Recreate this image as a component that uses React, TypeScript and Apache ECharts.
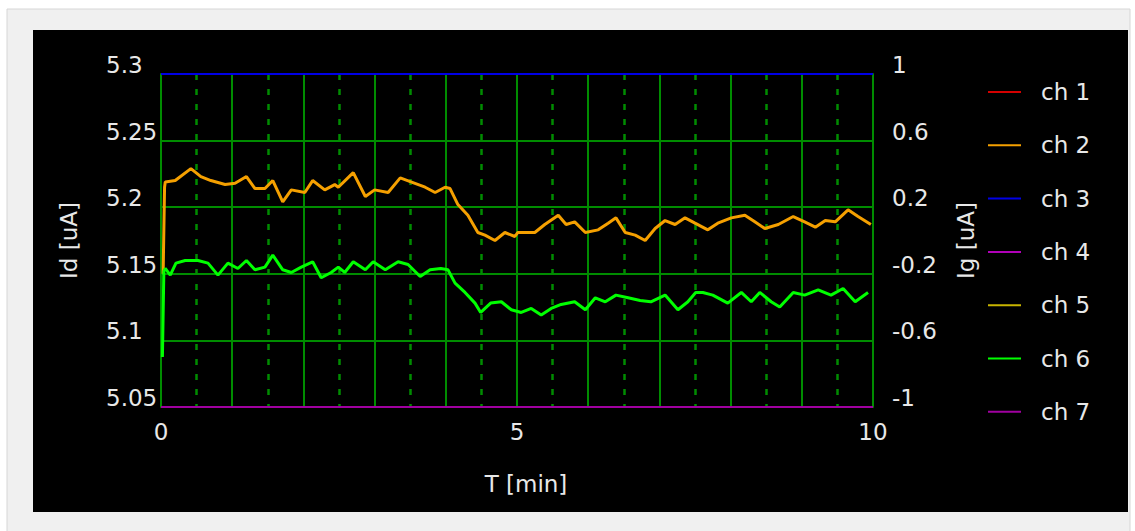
import React, { useEffect, useRef } from "react";
import * as echarts from "echarts";

// ---- data ----
const seriesNames = ["ch 1", "ch 2", "ch 3", "ch 4", "ch 5", "ch 6", "ch 7"];
const seriesColors = ["#d40000", "#f5a000", "#0000e6", "#b000b8", "#c8b400", "#00ff00", "#a000a0"];

// ch 2 (Id, orange): [T min, Id uA]
const ch2Points: [number, number][] = [
  [0.03, 5.15], [0.05, 5.215], [0.06, 5.219], [0.2, 5.22], [0.42, 5.229], [0.56, 5.223], [0.7, 5.22],
  [0.9, 5.217], [1.04, 5.218], [1.2, 5.223], [1.32, 5.214], [1.46, 5.214], [1.57, 5.22], [1.71, 5.204],
  [1.83, 5.213], [2.02, 5.211], [2.13, 5.22], [2.3, 5.213], [2.44, 5.217], [2.49, 5.215], [2.7, 5.226],
  [2.87, 5.208], [3.0, 5.213], [3.19, 5.211], [3.36, 5.222], [3.51, 5.219], [3.71, 5.215], [3.85, 5.211],
  [3.99, 5.215], [4.06, 5.214], [4.17, 5.202], [4.31, 5.194], [4.45, 5.181], [4.55, 5.179], [4.69, 5.175],
  [4.83, 5.181], [4.97, 5.178], [5.01, 5.181], [5.25, 5.181], [5.39, 5.187], [5.58, 5.194], [5.69, 5.187],
  [5.81, 5.189], [5.96, 5.181], [6.14, 5.183], [6.28, 5.188], [6.39, 5.192], [6.52, 5.181], [6.66, 5.179],
  [6.8, 5.175], [6.94, 5.184], [7.08, 5.19], [7.22, 5.187], [7.36, 5.192], [7.5, 5.188], [7.68, 5.183],
  [7.82, 5.188], [8.01, 5.192], [8.2, 5.194], [8.34, 5.189], [8.48, 5.184], [8.67, 5.187], [8.88, 5.193],
  [9.04, 5.189], [9.19, 5.185], [9.33, 5.19], [9.47, 5.189], [9.65, 5.198], [9.79, 5.193], [9.97, 5.187],
];

// ch 6 (Id, green): [T min, Id uA]
const ch6Points: [number, number][] = [
  [0.02, 5.0875], [0.04, 5.152], [0.06, 5.154], [0.13, 5.149], [0.21, 5.158], [0.34, 5.16], [0.52, 5.16],
  [0.66, 5.158], [0.8, 5.149], [0.94, 5.158], [1.08, 5.154], [1.2, 5.16], [1.32, 5.153], [1.46, 5.155],
  [1.57, 5.164], [1.71, 5.153], [1.83, 5.151], [1.97, 5.155], [2.13, 5.159], [2.25, 5.147], [2.39, 5.151],
  [2.49, 5.155], [2.58, 5.151], [2.7, 5.159], [2.87, 5.153], [2.98, 5.159], [3.15, 5.153], [3.33, 5.159],
  [3.47, 5.157], [3.64, 5.148], [3.78, 5.153], [3.93, 5.154], [4.03, 5.153], [4.13, 5.143], [4.27, 5.136],
  [4.41, 5.128], [4.49, 5.121], [4.63, 5.128], [4.78, 5.129], [4.92, 5.123], [5.06, 5.121], [5.2, 5.124],
  [5.34, 5.119], [5.48, 5.124], [5.62, 5.127], [5.81, 5.129], [5.96, 5.123], [6.1, 5.132], [6.24, 5.129],
  [6.39, 5.134], [6.56, 5.132], [6.73, 5.13], [6.88, 5.129], [7.08, 5.134], [7.26, 5.123], [7.4, 5.129],
  [7.51, 5.136], [7.61, 5.136], [7.75, 5.134], [7.96, 5.128], [8.15, 5.136], [8.29, 5.129], [8.41, 5.136],
  [8.57, 5.129], [8.69, 5.125], [8.88, 5.136], [9.04, 5.134], [9.23, 5.138], [9.41, 5.134], [9.58, 5.139],
  [9.75, 5.129], [9.93, 5.136],
];

// flat channels pinned at the axis limits
const ch3Points: [number, number][] = [[0, 5.3], [10, 5.3]];
const ch7Points: [number, number][] = [[0, 5.05], [10, 5.05]];

const xLabelValues = [0, 5, 10];
const rightTickLabels = ["-1", "-0.6", "-0.2", "0.2", "0.6", "1"];

const FONT = "DejaVu Sans";
const TXT = "#e8e8e8";
const GRID_GREEN = "#008c00";

export default function App() {
  const ref = useRef<HTMLDivElement>(null);
  useEffect(() => {
    if (!ref.current) return;
    const chart = echarts.init(ref.current, undefined, { renderer: "svg" });
    const dataByName: Record<string, [number, number][]> = {
      "ch 1": [],
      "ch 2": ch2Points,
      "ch 3": ch3Points,
      "ch 4": [],
      "ch 5": [],
      "ch 6": ch6Points,
      "ch 7": ch7Points,
    };
    const series = seriesNames.map((name, i) => ({
      name,
      type: "line",
      xAxisIndex: 0,
      yAxisIndex: 0,
      data: dataByName[name],
      showSymbol: false,
      symbol: "none",
      clip: name === "ch 3" || name === "ch 7" ? false : true,
      color: seriesColors[i],
      lineStyle: { color: seriesColors[i], width: name === "ch 2" || name === "ch 6" ? 3 : 2 },
      z: name === "ch 6" ? 4 : 3,
    }));
    chart.setOption({
      animation: false,
      backgroundColor: "#ffffff",
      textStyle: { fontFamily: FONT },
      graphic: [
        {
          type: "rect",
          z: -20,
          shape: { x: 7, y: 9, width: 1123, height: 530 },
          style: { fill: "#f0f0f0", stroke: "#d6d6d6", lineWidth: 1 },
        },
        {
          type: "rect",
          z: -19,
          shape: { x: 33, y: 30, width: 1095, height: 482 },
          style: { fill: "#000000" },
        },
      ],
      grid: { left: 161, right: 262, top: 74, bottom: 124 },
      legend: {
        orient: "vertical",
        left: 988,
        top: 80,
        padding: 0,
        icon: "rect",
        itemWidth: 33,
        itemHeight: 2,
        itemGap: 29.3,
        selectedMode: false,
        data: seriesNames,
        textStyle: {
          color: TXT,
          fontSize: 23,
          fontFamily: FONT,
          lineHeight: 24,
          padding: [0, 0, 0, 15],
        },
      },
      xAxis: {
        type: "value",
        min: 0,
        max: 10,
        interval: 1,
        name: "T [min]",
        nameLocation: "middle",
        nameGap: 65,
        nameTextStyle: { color: TXT, fontSize: 23, fontFamily: FONT, padding: [0, 0, 0, 18] },
        axisLine: { show: false },
        axisTick: { show: false },
        axisLabel: {
          color: TXT,
          fontSize: 23,
          fontFamily: FONT,
          margin: 13,
          formatter: (v: number) => (xLabelValues.includes(Math.round(v * 1000) / 1000) ? String(v) : ""),
        },
        splitLine: { show: true, lineStyle: { color: GRID_GREEN, width: 2, type: "solid" } },
        minorTick: { show: false, splitNumber: 2 },
        minorSplitLine: { show: true, lineStyle: { color: GRID_GREEN, width: 2.5, type: [6, 9] } },
      },
      yAxis: [
        {
          type: "value",
          position: "left",
          min: 5.05,
          max: 5.3,
          interval: 0.05,
          name: "Id [uA]",
          nameLocation: "middle",
          nameRotate: 90,
          nameGap: 81,
          nameTextStyle: { color: TXT, fontSize: 23, fontFamily: FONT },
          axisLine: { show: true, lineStyle: { color: GRID_GREEN, width: 2 } },
          axisTick: { show: false },
          axisLabel: {
            color: TXT,
            fontSize: 23,
            fontFamily: FONT,
            align: "left",
            margin: 55,
            verticalAlign: "bottom",
            lineHeight: 18,
            formatter: (v: number) => String(Math.round(v * 100) / 100),
          },
          splitLine: { show: true, lineStyle: { color: GRID_GREEN, width: 2 } },
        },
        {
          type: "value",
          position: "right",
          min: 0,
          max: 5,
          interval: 1,
          name: "Ig [uA]",
          nameLocation: "middle",
          nameRotate: 90,
          nameGap: 81,
          nameTextStyle: { color: TXT, fontSize: 23, fontFamily: FONT },
          axisLine: { show: true, lineStyle: { color: GRID_GREEN, width: 2 } },
          axisTick: { show: false },
          axisLabel: {
            color: TXT,
            fontSize: 23,
            fontFamily: FONT,
            align: "left",
            margin: 19,
            verticalAlign: "bottom",
            lineHeight: 18,
            formatter: (v: number) => rightTickLabels[Math.round(v)] ?? "",
          },
          splitLine: { show: false },
        },
      ],
      series,
    });
    return () => chart.dispose();
  }, []);
  return (
    <div
      ref={ref}
      style={{ position: "fixed", left: 0, top: 0, width: 1135, height: 531 }}
    />
  );
}
